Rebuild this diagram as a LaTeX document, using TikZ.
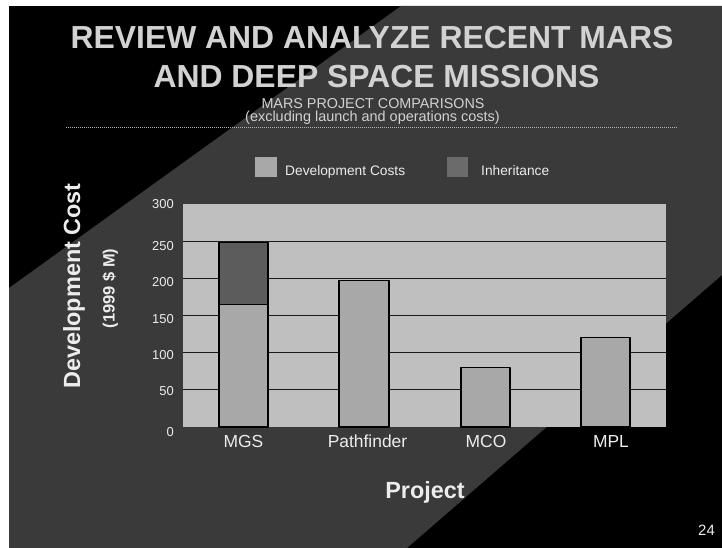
\documentclass[tikz,border=0pt]{standalone}
\usepackage{fontspec}
\setmainfont{Liberation Sans}
\definecolor{bandgray}{HTML}{3A3A3A}
\definecolor{plotgray}{HTML}{BFBFBF}
\definecolor{bargray}{HTML}{A8A8A8}
\definecolor{inhgray}{HTML}{5C5C5C}
\definecolor{titlegray}{HTML}{D2D2D2}
\definecolor{textgray}{HTML}{ECECEC}
\definecolor{rulegray}{HTML}{B4B4B4}
\begin{document}
\begin{tikzpicture}[>=latex,line join=bevel,
  ticklabel/.style={anchor=east,inner sep=0pt,text=textgray,font=\fontsize{13}{13}\selectfont},
  catlabel/.style={anchor=base,inner sep=0pt,text=textgray,font=\fontsize{17.5}{17.5}\selectfont},
  titleline/.style={anchor=base,inner sep=0pt,text=titlegray,font=\bfseries\fontsize{32}{32}\selectfont},
  subline/.style={anchor=base,inner sep=0pt,text=titlegray,font=\fontsize{14.4}{14.4}\selectfont},
  keylabel/.style={anchor=base west,inner sep=0pt,text=textgray,font=\fontsize{13.8}{13.8}\selectfont},
  axislabel/.style={anchor=base,inner sep=0pt,text=textgray,font=\bfseries\fontsize{23.5}{23.5}\selectfont},
  gridline/.style={draw=black!90,line width=1.1bp},
  bar/.style={draw=black,line width=1.3bp},
]
%%
\useasboundingbox (0bp,0bp) rectangle (722bp,548bp);
\fill [white] (0bp,0bp) rectangle (722bp,548bp);
\fill [black] (9bp,0bp) rectangle (722bp,542bp);
\fill [bandgray] (9bp,260bp) -- (401bp,542bp) -- (722bp,542bp) -- (722bp,273bp) -- (407bp,0bp) -- (9bp,0bp) -- cycle;
%
\node (title_0) at (372bp,499bp) [titleline] {REVIEW AND ANALYZE RECENT MARS};
  \node (title_1) at (376.5bp,460bp) [titleline] {AND DEEP SPACE MISSIONS};
  \node (sub_0) at (373bp,439.5bp) [subline] {MARS PROJECT COMPARISONS};
  \node (sub_1) at (372.5bp,426bp) [subline,font=\fontsize{14.5}{14.5}\selectfont] {(excluding launch and operations costs)};
  \coordinate (rule_w) at (66bp,420.4bp);
  \coordinate (rule_e) at (677bp,420.4bp);
  \draw [rulegray,line width=0.8bp,dash pattern=on 0.8bp off 1.2bp] (rule_w) -- (rule_e);
%
\fill [bargray] (255bp,371bp) rectangle (277bp,391bp);
  \node (key_0) at (285bp,372bp) [keylabel] {Development Costs};
  \fill [inhgray!80!bargray] (447bp,371bp) rectangle (468bp,391bp);
  \node (key_1) at (481bp,372bp) [keylabel] {Inheritance};
%
\fill [plotgray] (183bp,121bp) rectangle (666bp,344bp);
  \draw [gridline] (183bp,158.2bp) -- (666bp,158.2bp);
  \draw [gridline] (183bp,195.3bp) -- (666bp,195.3bp);
  \draw [gridline] (183bp,232.5bp) -- (666bp,232.5bp);
  \draw [gridline] (183bp,269.7bp) -- (666bp,269.7bp);
  \draw [gridline] (183bp,306.8bp) -- (666bp,306.8bp);
  \filldraw [bar,fill=bargray] (219bp,121bp) rectangle (268bp,243.6bp);
  \filldraw [bar,fill=inhgray] (219bp,243.6bp) rectangle (268bp,305.3bp);
  \filldraw [bar,fill=bargray] (339bp,121bp) rectangle (389bp,267.4bp);
  \filldraw [bar,fill=bargray] (461bp,121bp) rectangle (510bp,180.5bp);
  \filldraw [bar,fill=bargray] (581bp,121bp) rectangle (630bp,210.2bp);
%
\node (tick_0) at (174bp,115.5bp) [ticklabel] {0};
  \node (tick_50) at (174bp,157bp) [ticklabel] {50};
  \node (tick_100) at (174bp,193bp) [ticklabel] {100};
  \node (tick_150) at (174bp,229bp) [ticklabel] {150};
  \node (tick_200) at (174bp,265.5bp) [ticklabel] {200};
  \node (tick_250) at (174bp,301.5bp) [ticklabel] {250};
  \node (tick_300) at (174bp,343.5bp) [ticklabel] {300};
%
\node (cat_0) at (243.5bp,100bp) [catlabel] {MGS};
  \node (cat_1) at (367.5bp,100bp) [catlabel] {Pathfinder};
  \node (cat_2) at (486bp,100bp) [catlabel] {MCO};
  \node (cat_3) at (611bp,100bp) [catlabel] {MPL};
%
\node (axis_x) at (425bp,49bp) [axislabel] {Project};
  \node (axis_y) at (80bp,262bp) [axislabel,rotate=90] {Development Cost};
  \node (axis_unit) at (114.5bp,259.5bp) [axislabel,rotate=90,font=\bfseries\fontsize{16.5}{16.5}\selectfont] {(1999 \$ M)};
  \node (page_no) at (706.5bp,13bp) [anchor=base,inner sep=0pt,text=textgray,font=\fontsize{15}{15}\selectfont] {24};
%
\end{tikzpicture}
\end{document}
